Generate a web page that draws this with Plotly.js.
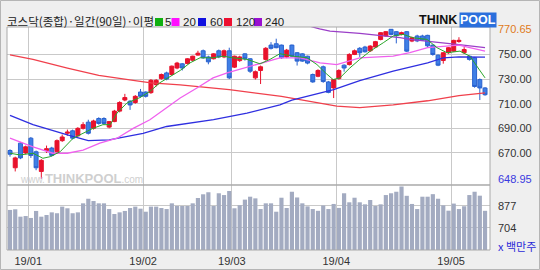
<!DOCTYPE html>
<html><head><meta charset="utf-8">
<script src="https://cdn.plot.ly/plotly-3.0.1.min.js"></script>
<style>html,body{margin:0;padding:0;background:#efefef;}#chart{width:540px;height:270px;}</style>
</head><body><div id="chart"></div>
<script>
// ---- data (KOSDAQ daily) ----
const tickIdx = [3.5, 25.5, 42.5, 62.5, 84.5];
const tickLabels = ['19/01', '19/02', '19/03', '19/04', '19/05'];

const opens = [
  672, 658, 678, 670, 682, 671, 655, 672, 674, 671,
  680, 686, 688, 684, 690, 695, 690, 698, 698, 691,
  695.5, 704, 713, 712, 711, 719.5, 719.5, 719, 725.5, 730.4,
  735, 733.7, 739, 742.4, 742.6, 745.3, 749.5, 753, 748, 746.5,
  753, 748, 753, 739.7, 745, 750.5, 746.5, 731, 737, 746,
  757.6, 758.7, 757.6, 748, 757.6, 751.4, 750.5, 748.6, 733.7, 732.3,
  740, 727.7, 722.8, 730.4, 741.3, 741.8, 750, 755, 756, 753,
  756, 762.2, 765, 770.4, 768.5, 766.3, 768.5, 760.9, 765, 765,
  765.5, 757.6, 749.4, 745.1, 751.4, 752.7, 760.5, 751.4, 748.6, 747.3, 729.6, 722.8
];
const highs = [
  673, 667, 679, 676, 683, 672, 665, 676, 675, 681,
  685, 689, 689, 691, 695, 697, 697, 699, 699, 696,
  705, 712, 718, 713, 717, 722, 720, 730, 730, 734.5,
  736, 741, 744, 743, 747, 749, 753, 754, 749, 751,
  754, 754, 755.5, 749, 749, 751, 747, 737, 741, 756,
  760, 762.8, 758, 754.5, 758, 752, 751, 749, 734.5, 738,
  741, 728.5, 730, 738, 742, 751, 754, 756, 757, 757.5,
  761, 768, 769, 770.65, 769, 768.5, 769, 764.5, 766, 766,
  766, 758, 750, 752, 756, 762, 764, 756, 749, 748, 730.5, 723.5
];
const lows = [
  667, 655, 665, 669, 666, 656, 648.95, 670, 667, 670,
  679, 684, 681, 683, 689, 685, 689, 693, 693, 690,
  695, 703, 712, 705, 710, 715, 715, 718, 724, 729.5,
  729, 733, 738, 737, 742, 744.5, 749, 746.5, 742, 746,
  747, 747, 730, 739, 744, 745, 735, 729.6, 726, 745,
  754, 755, 746.5, 747, 748, 741, 744, 742, 727, 731.5,
  727, 718.5, 714.6, 729.5, 736, 741, 749.5, 748, 751.5, 752,
  755.5, 761.5, 764.5, 765.5, 759, 765.5, 752, 760, 760, 761,
  756, 749, 740.5, 742.5, 750.5, 752, 759.5, 750.5, 745, 723, 713, 716.5
];
const closes = [
  669, 666, 666, 675, 668, 658, 664, 673.5, 668, 680,
  683, 687, 682, 690, 693, 686, 696, 694, 694, 695.5,
  704, 711, 715, 709, 716, 716, 716, 729, 729, 733.7,
  730, 740.5, 743, 739, 746.5, 748.6, 751, 747.3, 744, 750.5,
  748, 753, 731, 748.6, 748, 746.5, 736.4, 736, 740, 755,
  755, 755.5, 747.3, 753.5, 748.6, 744.6, 744.6, 743, 727.7, 737,
  728, 719.2, 729.6, 737, 739, 750, 753, 751.4, 752.2, 756.8,
  760.4, 767.7, 768.5, 766.3, 765.3, 767.7, 752.7, 763.6, 761, 761.6,
  757, 750, 741.3, 751.4, 755.5, 761.4, 761.5, 754, 746, 724, 722.8, 717.3
];
const volumes = [
  846, 851, 793, 798, 783, 838, 793, 806, 827, 820,
  872, 859, 820, 827, 898, 934, 916, 898, 898, 853,
  814, 827, 838, 861, 872, 856, 832, 872, 872, 861,
  853, 898, 877, 877, 877, 898, 940, 969, 985, 877,
  977, 963, 995, 859, 883, 927, 950, 937, 853, 898,
  898, 832, 942, 861, 989, 944, 898, 874, 853, 839,
  881, 853, 893, 862, 977, 906, 942, 906, 890, 924,
  877, 890, 963, 977, 989, 1031, 957, 893, 853, 950,
  950, 970, 934, 882, 840, 896, 853, 875, 963, 989, 958, 839
];

// moving averages, read at sample positions along each line
const ma5X = [0, 1.9, 4.4, 6.3, 7.7, 9.6, 12.1, 14, 15.9, 17.8, 19.2, 20.5, 22.4, 24.9, 26.8, 28.7, 30.7, 32.6, 34.5, 36.4, 38.9, 40.8, 42.7, 45.4, 47.9, 49.8, 51.7, 54.2, 56.9, 58.8, 60.7, 61.9, 63.2, 65.1, 67, 69, 71.5, 73.4, 75.3, 77.2, 79.9, 81.8, 83.7, 86.2, 88.1, 91];
const ma5Y = [669.8, 668.4, 669.8, 665.7, 667, 671, 682, 686, 690, 693, 693, 702.4, 710.6, 715, 720, 727, 732.3, 737, 743.2, 747.3, 747.3, 748.6, 747.3, 746, 742.4, 746, 750.6, 748.6, 747.3, 741.8, 734, 729.6, 731, 739, 746, 752.7, 759.5, 765, 766.3, 763.6, 762.2, 755.5, 751.4, 752.7, 748.6, 731];
const ma20X = [0, 4.4, 8.2, 11, 14, 17.2, 20.5, 23.6, 26.8, 30, 32.6, 35.8, 38.9, 41.6, 45.4, 49.2, 51.7, 55.6, 59.4, 62.6, 67, 73.4, 76.6, 80, 83, 86, 91];
const ma20Y = [682, 675, 669.8, 669.8, 672.4, 678, 682, 690, 697, 707, 714.6, 722.8, 731, 735, 739.7, 744.6, 747.3, 747.3, 743.2, 741.8, 747.3, 748.6, 751.4, 755.5, 756.8, 757.6, 752.7];
const ma60X = [0, 4.4, 11, 15, 19, 25.5, 30, 32.6, 39, 45.4, 51.7, 54, 58, 62, 67, 73.4, 80, 83, 86, 91];
const ma60Y = [700.5, 693, 684.7, 680, 680.6, 686, 691.5, 693.2, 697, 702.4, 709, 713, 717, 721.4, 728.8, 736.4, 743.2, 747.3, 748, 747.8];
const ma120X = [0, 4.4, 11, 17, 23.6, 27, 32.6, 42, 52, 58, 62.6, 67, 73.4, 80, 86, 91];
const ma120Y = [749.7, 746, 739, 733, 729, 727, 725.3, 721.4, 716, 711.4, 708, 706.8, 709, 712.4, 716.5, 718.8];
const ma240X = [57, 59.3, 61.3, 67, 74.7, 76.6, 86, 91];
const ma240Y = [773.5, 770.7, 769, 767.2, 763.6, 762.2, 758, 755.5];

const priceTicks = [670, 690, 710, 730, 750];
const volTicks = [704, 877];
const priceMax = 770.65, priceMin = 648.95;

// ---- layout helpers (pixel -> paper) ----
const W = 540, H = 270, L = 7, R = 50, T = 27, B = 20;
const pw = W - L - R, ph = H - T - B;
const px = x => (x - L) / pw;
const py = y => (H - B - y) / ph;
const split = py(185);

const idx = closes.map((_, i) => i);
const RED = '#e8122c', BLUE = '#3f7fe6', BLUE_EDGE = '#2a62cf';
const GRID = '#c9c9c9';
const numFont = {family: 'Liberation Sans, Arial, sans-serif', size: 11, color: '#333'};

const maLine = (x, y, color, w) => ({type: 'scatter', mode: 'lines', x, y, xaxis: 'x', yaxis: 'y',
  line: {color, width: w}, hoverinfo: 'skip', showlegend: false});

const data = [
  {type: 'bar', x: idx, y: volumes, xaxis: 'x', yaxis: 'y2', marker: {color: '#a3abc1', line: {width: 0}},
   hoverinfo: 'skip', showlegend: false},
  {type: 'candlestick', x: idx, open: opens, high: highs, low: lows, close: closes, xaxis: 'x', yaxis: 'y',
   increasing: {line: {color: RED, width: 1}, fillcolor: RED},
   decreasing: {line: {color: BLUE_EDGE, width: 1}, fillcolor: BLUE},
   whiskerwidth: 0, hoverinfo: 'skip', showlegend: false},
  maLine(ma120X, ma120Y, '#f0404c', 1.3),
  maLine(ma240X, ma240Y, '#9b3fc8', 1.3),
  maLine(ma60X, ma60Y, '#2f2fe0', 1.3),
  maLine(ma20X, ma20Y, '#f060ee', 1.3),
  maLine(ma5X, ma5Y, '#2aa62a', 1)
];

const fmt = v => v.toFixed(2);
const annotations = [];
// title + legend
annotations.push({xref: 'paper', yref: 'paper', x: px(5), y: py(20.5), xanchor: 'left', yanchor: 'middle',
  text: '코스닥(종합)·일간(90일)·이평', showarrow: false,
  font: {family: 'Noto Sans CJK KR, sans-serif', size: 11.5, color: '#222'}});
const legItems = [
  {c: '#10b010', t: '5', sx: 155, tx: 163},
  {c: '#ff10ff', t: '20', sx: 171.5, tx: 181},
  {c: '#1010e0', t: '60', sx: 198, tx: 207.5},
  {c: '#ee1030', t: '120', sx: 224, tx: 234},
  {c: '#9a10d0', t: '240', sx: 254, tx: 263}
];
const shapes = [];
legItems.forEach(it => {
  shapes.push({type: 'rect', xref: 'paper', yref: 'paper', x0: px(it.sx), x1: px(it.sx + 8),
    y0: py(26), y1: py(18), fillcolor: it.c, line: {width: 0}});
  annotations.push({xref: 'paper', yref: 'paper', x: px(it.tx), y: py(21.5), xanchor: 'left', yanchor: 'middle',
    text: it.t, showarrow: false, font: {family: 'Liberation Sans, Arial, sans-serif', size: 11.5, color: '#222'}});
});
// logo
annotations.push({xref: 'paper', yref: 'paper', x: px(458.5), y: py(19.5), xanchor: 'right', yanchor: 'middle',
  text: '<b>THINK</b>', showarrow: false, font: {family: 'Liberation Sans, Arial, sans-serif', size: 12.5, color: '#111'}});
annotations.push({xref: 'paper', yref: 'paper', x: px(459), y: py(19.5), xanchor: 'left', yanchor: 'middle',
  text: '<b>POOL</b>', showarrow: false, bgcolor: '#2b6fdc', borderpad: 0,
  font: {family: 'Liberation Sans, Arial, sans-serif', size: 12.5, color: '#ffffff'}});
// watermark
annotations.push({xref: 'paper', yref: 'paper', x: px(81), y: py(178), xanchor: 'center', yanchor: 'middle',
  text: 'www.<b><span style="font-size:13px">THINKPOOL</span></b>.com', showarrow: false,
  font: {family: 'Liberation Sans, Arial, sans-serif', size: 10, color: '#cfcfcf'}});
// price labels
priceTicks.forEach(v => annotations.push({xref: 'paper', yref: 'y', x: px(496), y: v, xanchor: 'left', yanchor: 'middle',
  text: fmt(v), showarrow: false, font: numFont}));
annotations.push({xref: 'paper', yref: 'y', x: px(496), y: priceMax, xanchor: 'left', yanchor: 'middle',
  text: fmt(priceMax), showarrow: false, font: Object.assign({}, numFont, {color: '#e07a20'})});
annotations.push({xref: 'paper', yref: 'y', x: px(496), y: priceMin, xanchor: 'left', yanchor: 'middle',
  text: fmt(priceMin), showarrow: false, font: Object.assign({}, numFont, {color: '#3a3ae0'})});
// volume labels
volTicks.forEach(v => annotations.push({xref: 'paper', yref: 'y2', x: px(496), y: v, xanchor: 'left', yanchor: 'middle',
  text: String(v), showarrow: false, font: numFont}));
annotations.push({xref: 'paper', yref: 'paper', x: px(496), y: py(245.5), xanchor: 'left', yanchor: 'middle',
  text: 'x 백만주', showarrow: false, font: {family: 'Noto Sans CJK KR, sans-serif', size: 11, color: '#2a2ad8'}});

// frames
shapes.push({type: 'rect', xref: 'paper', yref: 'paper', x0: 0, x1: 1, y0: split, y1: 1, line: {color: '#a9a9a9', width: 1}});
shapes.push({type: 'rect', xref: 'paper', yref: 'paper', x0: 0, x1: 1, y0: 0, y1: split, line: {color: '#a9a9a9', width: 1}});
shapes.push({type: 'rect', xref: 'paper', yref: 'paper', x0: px(0.5), x1: px(539.5), y0: py(269.5), y1: py(0.5), line: {color: '#b5b5b5', width: 1}});

const layout = {
  width: W, height: H, margin: {l: L, r: R, t: T, b: B},
  paper_bgcolor: '#efefef', plot_bgcolor: '#ffffff',
  showlegend: false, hovermode: false,
  boxgap: 0.24, boxgroupgap: 0, bargap: 0.2,
  xaxis: {range: [-0.575, 91.95], domain: [0, 1], anchor: 'y2', tickvals: tickIdx, ticktext: tickLabels,
    showgrid: true, gridcolor: GRID, gridwidth: 1, zeroline: false, showline: false,
    ticks: 'outside', ticklen: 1, tickcolor: 'rgba(0,0,0,0)', tickfont: numFont,
    rangeslider: {visible: false}, fixedrange: true},
  yaxis: {domain: [split, 1], range: [644, 772.3], tickvals: priceTicks, showticklabels: false,
    showgrid: true, gridcolor: GRID, gridwidth: 1, zeroline: false, anchor: 'x', fixedrange: true},
  yaxis2: {domain: [0, split], range: [531, 1042], tickvals: volTicks, showticklabels: false,
    showgrid: true, gridcolor: GRID, gridwidth: 1, zeroline: false, anchor: 'x', fixedrange: true},
  annotations, shapes
};

Plotly.newPlot('chart', data, layout, {displayModeBar: false, staticPlot: true});
</script>
</body></html>
